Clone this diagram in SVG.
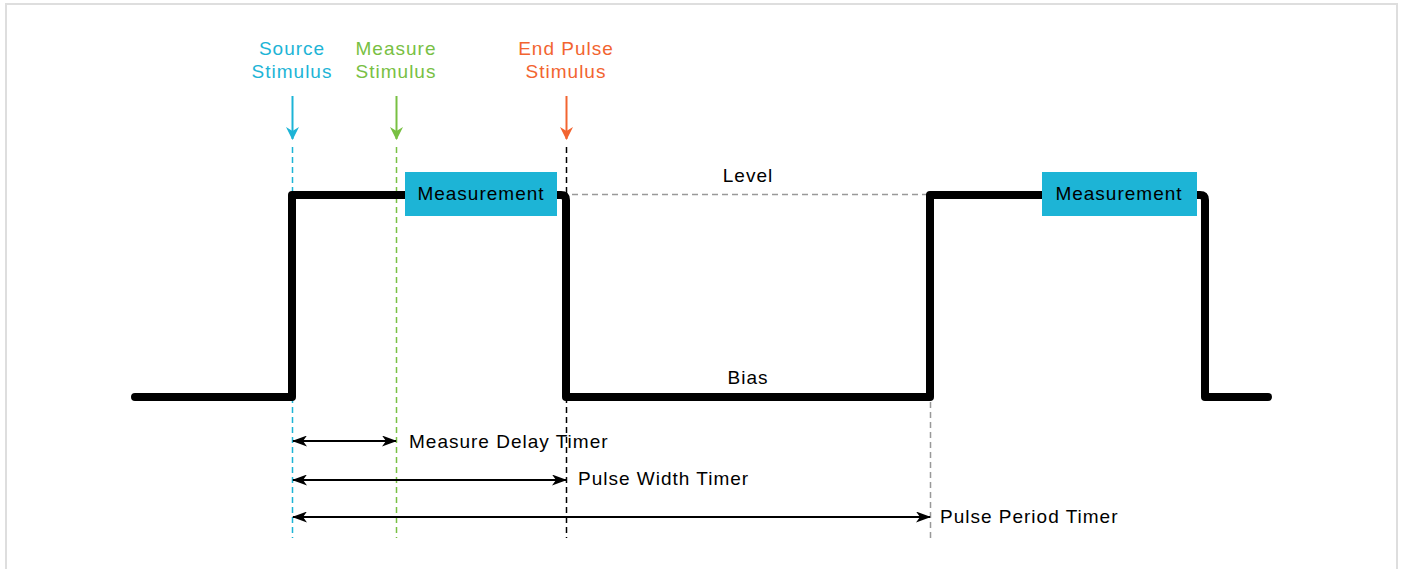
<svg xmlns="http://www.w3.org/2000/svg" width="1401" height="569" viewBox="0 0 1401 569">
<defs>
<style>
.lbl{font-family:"Liberation Sans",Arial,sans-serif;font-size:19px;letter-spacing:1px;}
.wave{fill:none;stroke:#000;stroke-width:8;stroke-linecap:round;stroke-linejoin:round;}
.dash{fill:none;stroke-width:1.5;stroke-dasharray:6,4;}
.timer{stroke:#000;stroke-width:2;fill:none;marker-start:url(#ahL);marker-end:url(#ahR);}
.box{fill:#1DB4D6;}
</style>
<marker id="ahR" viewBox="0 0 15 11" refX="14" refY="5.5" markerWidth="15" markerHeight="11" markerUnits="userSpaceOnUse" orient="auto"><path d="M0,0 L15,5.5 L0,11 L4,5.5 Z" fill="#000"/></marker>
<marker id="ahL" viewBox="0 0 15 11" refX="1" refY="5.5" markerWidth="15" markerHeight="11" markerUnits="userSpaceOnUse" orient="auto"><path d="M15,0 L0,5.5 L15,11 L11,5.5 Z" fill="#000"/></marker>
<marker id="ahCyan" viewBox="0 0 13 13" refX="12" refY="6.5" markerWidth="13" markerHeight="13" markerUnits="userSpaceOnUse" orient="auto"><path d="M0,0 L13,6.5 L0,13 L4,6.5 Z" fill="#1DB4D6"/></marker>
<marker id="ahGreen" viewBox="0 0 13 13" refX="12" refY="6.5" markerWidth="13" markerHeight="13" markerUnits="userSpaceOnUse" orient="auto"><path d="M0,0 L13,6.5 L0,13 L4,6.5 Z" fill="#78C043"/></marker>
<marker id="ahOrange" viewBox="0 0 13 13" refX="12" refY="6.5" markerWidth="13" markerHeight="13" markerUnits="userSpaceOnUse" orient="auto"><path d="M0,0 L13,6.5 L0,13 L4,6.5 Z" fill="#F26430"/></marker>
</defs>
<rect x="0" y="0" width="1401" height="569" fill="#fff"/>
<rect x="6" y="4" width="1391" height="600" fill="none" stroke="#dedede" stroke-width="2"/>

<g id="connectors">
<line class="dash" x1="292.5" y1="147" x2="292.5" y2="538" stroke="#1DB4D6"/>
<line class="dash" x1="396.5" y1="147" x2="396.5" y2="538" stroke="#78C043"/>
<line class="dash" x1="566.5" y1="147" x2="566.5" y2="538" stroke="#000"/>
<line class="dash" x1="930.5" y1="402" x2="930.5" y2="538" stroke="#999"/>
<line class="dash" x1="572" y1="194.5" x2="928" y2="194.5" stroke="#999"/>
<line x1="292.5" y1="96" x2="292.5" y2="139" stroke="#1DB4D6" stroke-width="2" marker-end="url(#ahCyan)"/>
<line x1="396.5" y1="96" x2="396.5" y2="139" stroke="#78C043" stroke-width="2" marker-end="url(#ahGreen)"/>
<line x1="566.5" y1="96" x2="566.5" y2="139" stroke="#F26430" stroke-width="2" marker-end="url(#ahOrange)"/>
<line class="timer" x1="293" y1="441" x2="396" y2="441"/>
<line class="timer" x1="293" y1="480" x2="566" y2="480"/>
<line class="timer" x1="293" y1="517" x2="930" y2="517"/>
</g>

<g id="waveform">
<path class="wave" d="M135,397 H292 V195 H561 Q566,195 566,200 V397 H930 V195 H1200 Q1205,195 1205,200 V397 H1268"/>
</g>

<g id="measurement1">
<rect class="box" x="405" y="172" width="152" height="44"/>
<text class="lbl" x="481" y="200" text-anchor="middle" fill="#000">Measurement</text>
</g>
<g id="measurement2">
<rect class="box" x="1042" y="172" width="155" height="44"/>
<text class="lbl" x="1119" y="200" text-anchor="middle" fill="#000">Measurement</text>
</g>

<g id="source-stimulus">
<text class="lbl" x="292" y="55" text-anchor="middle" fill="#1DB4D6">Source</text>
<text class="lbl" x="292" y="78" text-anchor="middle" fill="#1DB4D6">Stimulus</text>
</g>
<g id="measure-stimulus">
<text class="lbl" x="396" y="55" text-anchor="middle" fill="#78C043">Measure</text>
<text class="lbl" x="396" y="78" text-anchor="middle" fill="#78C043">Stimulus</text>
</g>
<g id="end-pulse-stimulus">
<text class="lbl" x="566" y="55" text-anchor="middle" fill="#F26430">End Pulse</text>
<text class="lbl" x="566" y="78" text-anchor="middle" fill="#F26430">Stimulus</text>
</g>

<g id="level-label"><text class="lbl" x="748" y="182" text-anchor="middle" fill="#000">Level</text></g>
<g id="bias-label"><text class="lbl" x="748" y="384" text-anchor="middle" fill="#000">Bias</text></g>

<g id="timer-labels">
<text class="lbl" x="409" y="448" fill="#000">Measure Delay Timer</text>
<text class="lbl" x="578" y="485" fill="#000">Pulse Width Timer</text>
<text class="lbl" x="940" y="523" fill="#000">Pulse Period Timer</text>
</g>
</svg>
